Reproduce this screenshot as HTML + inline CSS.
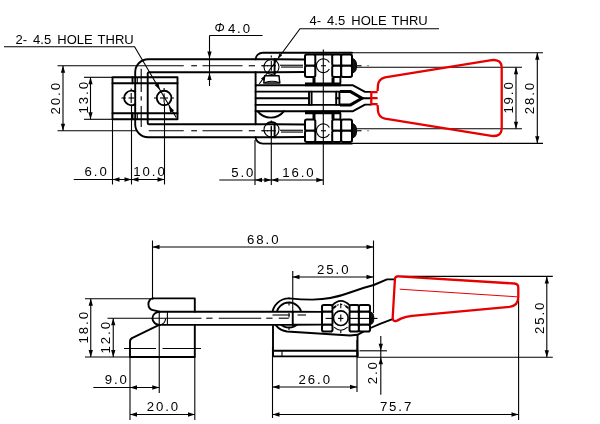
<!DOCTYPE html>
<html><head><meta charset="utf-8"><title>Toggle latch clamp drawing</title>
<style>
html,body{margin:0;padding:0;background:#fff;}
svg{display:block;}
text{font-family:"Liberation Sans",sans-serif;fill:#000;font-size:13px;filter:grayscale(1);}
.n{letter-spacing:1.9px;font-size:13.2px;}
.phi{font-style:italic;font-size:12px;}
.t{stroke:#000;stroke-width:1.1;fill:none;}
.k{stroke:#000;stroke-width:1.9;fill:none;stroke-linecap:round;stroke-linejoin:round;}
.kn{stroke:#000;stroke-width:2;fill:#fff;}
.k4{stroke:#000;stroke-width:3.8;fill:none;}
.k2{stroke:#000;stroke-width:3;fill:none;stroke-linejoin:miter;}
.k3{stroke:#000;stroke-width:3;fill:none;}
.kf{stroke:#000;stroke-width:1.5;fill:#fff;stroke-linejoin:round;}
.kw{stroke:#000;stroke-width:1.6;fill:#fff;}
.a{fill:#000;stroke:none;}
.af{fill:#111;stroke:#000;stroke-width:1;}
.r{stroke:#e60000;stroke-width:2.3;fill:none;stroke-linejoin:round;}
.rt{stroke:#e60000;stroke-width:1;fill:none;}
</style></head><body>
<svg width="600" height="424" viewBox="0 0 600 424">
<rect x="0" y="0" width="600" height="424" fill="#fff"/>
<line class="t" x1="57.5" y1="65.75" x2="183.75" y2="65.75"/>
<line class="t" x1="57.5" y1="130.75" x2="137" y2="130.75"/>
<line class="t" x1="63" y1="65.75" x2="63" y2="130.75"/>
<polygon class="a" points="63.00,65.75 65.15,72.75 60.85,72.75"/>
<polygon class="a" points="63.00,130.75 60.85,123.75 65.15,123.75"/>
<text class="n" x="60" y="114.4" transform="rotate(-90 60 114.4)">20.0</text>
<line class="t" x1="84" y1="77.3" x2="112" y2="77.3"/>
<line class="t" x1="84" y1="119.3" x2="112" y2="119.3"/>
<line class="t" x1="90.5" y1="77.3" x2="90.5" y2="119.3"/>
<polygon class="a" points="90.50,77.30 92.65,84.30 88.35,84.30"/>
<polygon class="a" points="90.50,119.30 88.35,112.30 92.65,112.30"/>
<text class="n" x="88.1" y="113.4" transform="rotate(-90 88.1 113.4)">13.0</text>
<line class="t" x1="112.5" y1="119" x2="112.5" y2="184.5"/>
<line class="t" x1="131.5" y1="104.5" x2="131.5" y2="184.5"/>
<line class="t" x1="164.5" y1="102.5" x2="164.5" y2="184.5"/>
<line class="t" x1="73.75" y1="179.5" x2="164.5" y2="179.5"/>
<polygon class="a" points="112.50,179.50 119.50,177.35 119.50,181.65"/>
<polygon class="a" points="131.50,179.50 124.50,181.65 124.50,177.35"/>
<polygon class="a" points="131.50,179.50 138.50,177.35 138.50,181.65"/>
<polygon class="a" points="164.50,179.50 157.50,181.65 157.50,177.35"/>
<text class="n" x="84.6" y="176.0">6.0</text>
<text class="n" x="133.35" y="176.0">10.0</text>
<line class="t" x1="255" y1="140" x2="255" y2="185"/>
<line class="t" x1="271.3" y1="126.5" x2="271.3" y2="185"/>
<line class="t" x1="323.3" y1="49.5" x2="323.3" y2="185"/>
<line class="t" x1="219.3" y1="180" x2="323.3" y2="180"/>
<polygon class="a" points="255.00,180.00 262.00,177.85 262.00,182.15"/>
<polygon class="a" points="271.30,180.00 264.30,182.15 264.30,177.85"/>
<polygon class="a" points="271.30,180.00 278.30,177.85 278.30,182.15"/>
<polygon class="a" points="323.30,180.00 316.30,182.15 316.30,177.85"/>
<text class="n" x="231.3" y="176.5">5.0</text>
<text class="n" x="282.3" y="176.5">16.0</text>
<line class="t" x1="209.5" y1="35.5" x2="262.5" y2="35.5"/>
<line class="t" x1="209.5" y1="35.5" x2="209.5" y2="86"/>
<polygon class="a" points="209.50,58.60 207.35,51.60 211.65,51.60"/>
<polygon class="a" points="209.50,73.00 211.65,80.00 207.35,80.00"/>
<text class="phi" x="214.6" y="32.3">Φ</text>
<text class="n" x="227.9" y="33.0">4.0</text>
<text class="l" y="43.85"><tspan x="15.6">2-</tspan><tspan x="33.1">4.5</tspan><tspan x="57.3">HOLE</tspan><tspan x="97.6">THRU</tspan></text>
<path class="t" d="M4,46.7 L134.6,46.7 L176.2,117.5"/>
<text class="l" y="25.3"><tspan x="309.6">4-</tspan><tspan x="327.1">4.5</tspan><tspan x="351.3">HOLE</tspan><tspan x="391.6">THRU</tspan></text>
<path class="t" d="M439,28.7 L300,28.7 L259.2,84"/>
<line class="t" x1="357" y1="67.3" x2="522" y2="67.3"/>
<line class="t" x1="357" y1="128.7" x2="522" y2="128.7"/>
<line class="t" x1="516" y1="67.3" x2="516" y2="128.7"/>
<polygon class="a" points="516.00,67.30 518.15,74.30 513.85,74.30"/>
<polygon class="a" points="516.00,128.70 513.85,121.70 518.15,121.70"/>
<text class="n" x="512.7" y="113.6" transform="rotate(-90 512.7 113.6)">19.0</text>
<line class="t" x1="352" y1="52.7" x2="543" y2="52.7"/>
<line class="t" x1="352" y1="143.4" x2="543" y2="143.4"/>
<line class="t" x1="537.3" y1="52.7" x2="537.3" y2="143.3"/>
<polygon class="a" points="537.30,52.70 539.45,59.70 535.15,59.70"/>
<polygon class="a" points="537.30,143.30 535.15,136.30 539.45,136.30"/>
<text class="n" x="534" y="114.2" transform="rotate(-90 534 114.2)">28.0</text>
<rect class="k" x="112.5" y="77.3" width="65" height="42" rx="0"/>
<line class="k" x1="112.5" y1="83.3" x2="177.5" y2="83.3"/>
<line class="k" x1="112.5" y1="113.3" x2="177.5" y2="113.3"/>
<path class="k" d="M275.6,59.2 L148.2,59.2 A13,13 0 0 0 135.2,72.2 L135.2,124.3 A13,13 0 0 0 148.2,137.3 L275.6,137.3"/>
<path class="k" d="M275.6,72.2 L149,72.2 A1.3,1.3 0 0 0 147.7,73.5 L147.7,123 A1.3,1.3 0 0 0 149,124.3 L275.6,124.3"/>
<line class="k" x1="132.5" y1="77.3" x2="132.5" y2="83.3"/>
<line class="k" x1="132.5" y1="113.3" x2="132.5" y2="119.3"/>
<line class="t" x1="137.3" y1="77.3" x2="137.3" y2="83.3"/>
<line class="t" x1="137.3" y1="113.3" x2="137.3" y2="119.3"/>
<line class="t" x1="141.2" y1="68.8" x2="141.2" y2="92.1"/>
<line class="t" x1="141.2" y1="96.3" x2="141.2" y2="100.6"/>
<line class="t" x1="141.2" y1="105.9" x2="141.2" y2="127"/>
<line class="t" x1="191.25" y1="65.75" x2="197" y2="65.75"/>
<line class="t" x1="202.5" y1="65.75" x2="242.5" y2="65.75"/>
<line class="t" x1="248.75" y1="65.75" x2="255" y2="65.75"/>
<line class="t" x1="261.25" y1="65.75" x2="268" y2="65.75"/>
<line class="t" x1="191.25" y1="130.75" x2="197" y2="130.75"/>
<line class="t" x1="202.5" y1="130.75" x2="242.5" y2="130.75"/>
<line class="t" x1="248.75" y1="130.75" x2="255" y2="130.75"/>
<line class="t" x1="261.25" y1="130.75" x2="268" y2="130.75"/>
<line class="t" x1="148.75" y1="130.75" x2="183.75" y2="130.75"/>
<path class="k" d="M135.2,91.9 A7.2,7.2 0 1 0 135.2,104.1"/>
<line class="t" x1="121.5" y1="98" x2="126" y2="98"/>
<line class="t" x1="128.5" y1="98" x2="134" y2="98"/>
<line class="t" x1="131.2" y1="93" x2="131.2" y2="103"/>
<line class="t" x1="131.2" y1="88.5" x2="131.2" y2="90.5"/>
<circle class="k" cx="164.1" cy="98" r="7.3"/>
<line class="t" x1="154" y1="98" x2="156" y2="98"/>
<line class="t" x1="160" y1="98" x2="168" y2="98"/>
<line class="t" x1="172" y1="98" x2="174" y2="98"/>
<line class="t" x1="164.1" y1="93.5" x2="164.1" y2="102.5"/>
<line class="t" x1="164.1" y1="88" x2="164.1" y2="90"/>
<polygon class="a" points="160.00,90.00 154.60,85.05 158.31,82.87"/>
<polygon class="a" points="168.60,105.60 174.00,110.55 170.29,112.73"/>
<path class="k" d="M352,52.75 L262.9,52.75 A7.3,6.5 0 0 0 255.6,59.2 M255.6,72.2 L255.6,124.3 M255.6,137.3 A7.3,6.3 0 0 0 262.9,143.6 L352,143.6"/>
<path class="k" d="M275.6,59.2 L305,59.5 M275.6,72.2 L305,72 M275.6,124.3 L305,124.5 M275.6,137.3 L305,137"/>
<line class="k" x1="274.6" y1="59.2" x2="274.6" y2="75.5"/>
<line class="k" x1="274.6" y1="124.3" x2="274.6" y2="137.3"/>
<circle class="t" cx="271.5" cy="66.9" r="7.5"/>
<circle class="t" cx="271.5" cy="129.6" r="7.5"/>
<path class="k" d="M266.2,124.3 A7.5,7.5 0 0 1 276.8,124.3"/>
<line class="t" x1="280" y1="65.25" x2="303" y2="65.25"/>
<line class="t" x1="281" y1="67.05" x2="303" y2="67.05"/>
<line class="t" x1="262.5" y1="65.75" x2="264.5" y2="65.75"/>
<line class="t" x1="267" y1="65.75" x2="276" y2="65.75"/>
<line class="t" x1="271.3" y1="60.75" x2="271.3" y2="70.75"/>
<line class="t" x1="357" y1="65.75" x2="361.5" y2="65.75"/>
<line class="t" x1="367.5" y1="65.75" x2="368.5" y2="65.75"/>
<line class="t" x1="280" y1="130.25" x2="303" y2="130.25"/>
<line class="t" x1="281" y1="132.05" x2="303" y2="132.05"/>
<line class="t" x1="262.5" y1="130.75" x2="264.5" y2="130.75"/>
<line class="t" x1="267" y1="130.75" x2="276" y2="130.75"/>
<line class="t" x1="271.3" y1="125.75" x2="271.3" y2="135.75"/>
<line class="t" x1="357" y1="130.75" x2="361.5" y2="130.75"/>
<line class="t" x1="367.5" y1="130.75" x2="368.5" y2="130.75"/>
<line class="t" x1="271.3" y1="55.5" x2="271.3" y2="57.5"/>
<line class="t" x1="271.3" y1="120.5" x2="271.3" y2="122.5"/>
<path class="k" d="M255.6,85.3 L353,85.3 L365,91.9 L371.3,91.9"/>
<path class="k" d="M255.6,111.2 L353,111.2 L365,104.6 L371.3,104.6"/>
<path class="k" d="M255.6,91.6 L340,91.6 M255.6,104.9 L340,104.9"/>
<path class="k2" d="M340,91.6 L350.5,91.6 L362,98.2 L350.5,104.9 L340,104.9"/>
<line class="k" x1="255.6" y1="98.2" x2="309" y2="98.2"/>
<line class="k" x1="362" y1="98.2" x2="371.3" y2="98.2"/>
<line class="k" x1="309" y1="91.6" x2="309" y2="104.9"/>
<line class="k" x1="311.6" y1="91.6" x2="311.6" y2="104.9"/>
<line class="k" x1="336.2" y1="91.6" x2="336.2" y2="104.9"/>
<line class="k" x1="339.4" y1="91.6" x2="339.4" y2="104.9"/>
<line class="k" x1="336.2" y1="98.2" x2="339.4" y2="98.2"/>
<path class="k" d="M257.5,111.2 A16.8,16.8 0 0 0 284,111.2"/>
<path class="kf" d="M263.8,83 L264.6,75.8 L279,75.8 L279.8,83 Z"/>
<path class="t" d="M265,82.6 Q272,80 279,82.6"/>
<polygon class="a" points="277.80,58.60 279.39,53.56 282.13,55.58"/>
<polygon class="a" points="265.30,75.60 263.71,80.64 260.97,78.62"/>
<line class="k" x1="315" y1="54.45" x2="332" y2="54.45"/>
<rect class="kn" x="305" y="54.45" width="10.300000000000011" height="11.3" rx="1.8"/>
<rect class="kn" x="305" y="65.75" width="10.300000000000011" height="11.3" rx="1.8"/>
<rect class="kn" x="332.2" y="54.45" width="9.0" height="11.3" rx="1.8"/>
<rect class="kn" x="332.2" y="65.75" width="9.0" height="11.3" rx="1.8"/>
<rect class="kn" x="341.2" y="54.45" width="10.800000000000011" height="11.3" rx="1.8"/>
<rect class="kn" x="341.2" y="65.75" width="10.800000000000011" height="11.3" rx="1.8"/>
<path class="af" d="M352.3,58.45 Q356.6,59.25 356.6,65.75 Q356.6,72.25 352.3,73.05 Z"/>
<path class="t" d="M329.39,62.51 A6.9,6.9 0 1 0 329.39,68.99"/>
<line class="t" x1="321" y1="65.75" x2="326" y2="65.75"/>
<line class="k" x1="315" y1="142.05" x2="332" y2="142.05"/>
<rect class="kn" x="305" y="119.45" width="10.300000000000011" height="11.3" rx="1.8"/>
<rect class="kn" x="305" y="130.75" width="10.300000000000011" height="11.3" rx="1.8"/>
<rect class="kn" x="332.2" y="119.45" width="9.0" height="11.3" rx="1.8"/>
<rect class="kn" x="332.2" y="130.75" width="9.0" height="11.3" rx="1.8"/>
<rect class="kn" x="341.2" y="119.45" width="10.800000000000011" height="11.3" rx="1.8"/>
<rect class="kn" x="341.2" y="130.75" width="10.800000000000011" height="11.3" rx="1.8"/>
<path class="af" d="M352.3,123.45 Q356.6,124.25 356.6,130.75 Q356.6,137.25 352.3,138.05 Z"/>
<path class="t" d="M329.39,127.51 A6.9,6.9 0 1 0 329.39,133.99"/>
<line class="t" x1="321" y1="130.75" x2="326" y2="130.75"/>
<path class="k4" d="M305,84.4 L341,84.4"/>
<path class="k4" d="M305,112.3 L341,112.3"/>
<path class="k3" d="M314,77.5 L314,83 M333,77.5 L333,83 M314,119 L314,113.5 M333,119 L333,113.5"/>
<path class="k" d="M340.4,77.5 L340.4,83 M340.4,119 L340.4,113.5"/>
<path class="r" d="M377.6,91 L378,85 Q378.5,79 385,77.3 L490,60.3 Q501.7,58.5 501.7,68 L501.7,128 Q501.7,137.5 490,135.7 L385,118.7 Q378.5,117 378,111 L377.6,105"/>
<path class="r" d="M377.6,92.2 L371.3,92.2 L371.3,104.1 L377.6,104.1 M371.3,98.1 L377.6,98.1"/>
<line class="t" x1="152.5" y1="240.5" x2="152.5" y2="299.5"/>
<line class="t" x1="373.5" y1="240.5" x2="373.5" y2="313"/>
<line class="t" x1="152.5" y1="247" x2="373.5" y2="247"/>
<polygon class="a" points="152.50,247.00 159.50,244.85 159.50,249.15"/>
<polygon class="a" points="373.50,247.00 366.50,249.15 366.50,244.85"/>
<text class="n" x="247.1" y="244.1">68.0</text>
<line class="t" x1="292.75" y1="271" x2="292.75" y2="311"/>
<line class="t" x1="292.5" y1="277" x2="373.5" y2="277"/>
<polygon class="a" points="292.50,277.00 299.50,274.85 299.50,279.15"/>
<polygon class="a" points="373.50,277.00 366.50,279.15 366.50,274.85"/>
<text class="n" x="317.1" y="274.0">25.0</text>
<line class="t" x1="85" y1="298.75" x2="151" y2="298.75"/>
<line class="t" x1="85" y1="357" x2="130" y2="357"/>
<line class="t" x1="90.75" y1="298.75" x2="90.75" y2="357"/>
<polygon class="a" points="90.75,298.75 92.90,305.75 88.60,305.75"/>
<polygon class="a" points="90.75,357.00 88.60,350.00 92.90,350.00"/>
<text class="n" x="88" y="343.4" transform="rotate(-90 88 343.4)">18.0</text>
<line class="t" x1="107.5" y1="318.2" x2="201.5" y2="318.2"/>
<line class="t" x1="113.25" y1="318.25" x2="113.25" y2="357"/>
<polygon class="a" points="113.25,318.25 115.40,325.25 111.10,325.25"/>
<polygon class="a" points="113.25,357.00 111.10,350.00 115.40,350.00"/>
<text class="n" x="110" y="353.4" transform="rotate(-90 110 353.4)">12.0</text>
<line class="t" x1="130" y1="357" x2="130" y2="420"/>
<line class="t" x1="159.25" y1="311" x2="159.25" y2="393"/>
<line class="t" x1="194.8" y1="357" x2="194.8" y2="420"/>
<line class="t" x1="93.3" y1="387.5" x2="159.25" y2="387.5"/>
<polygon class="a" points="130.00,387.50 137.00,385.35 137.00,389.65"/>
<polygon class="a" points="159.25,387.50 152.25,389.65 152.25,385.35"/>
<text class="n" x="104.8" y="384.3">9.0</text>
<line class="t" x1="130" y1="414.5" x2="195" y2="414.5"/>
<polygon class="a" points="130.00,414.50 137.00,412.35 137.00,416.65"/>
<polygon class="a" points="195.00,414.50 188.00,416.65 188.00,412.35"/>
<text class="n" x="146.8" y="410.9">20.0</text>
<line class="t" x1="272.5" y1="347" x2="272.5" y2="418"/>
<line class="t" x1="357" y1="340" x2="357" y2="392"/>
<line class="t" x1="272.5" y1="387" x2="357" y2="387"/>
<polygon class="a" points="272.50,387.00 279.50,384.85 279.50,389.15"/>
<polygon class="a" points="357.00,387.00 350.00,389.15 350.00,384.85"/>
<text class="n" x="298.6" y="383.5">26.0</text>
<line class="t" x1="272.5" y1="414.5" x2="518.5" y2="414.5"/>
<polygon class="a" points="272.50,414.50 279.50,412.35 279.50,416.65"/>
<polygon class="a" points="518.50,414.50 511.50,416.65 511.50,412.35"/>
<text class="n" x="379.9" y="410.5">75.7</text>
<line class="t" x1="518.6" y1="299" x2="518.6" y2="420"/>
<line class="t" x1="357" y1="357.2" x2="552.8" y2="357.2"/>
<line class="t" x1="396" y1="276.4" x2="552.8" y2="276.4"/>
<line class="t" x1="546.8" y1="276.4" x2="546.8" y2="357.2"/>
<polygon class="a" points="546.80,276.40 548.95,283.40 544.65,283.40"/>
<polygon class="a" points="546.80,357.20 544.65,350.20 548.95,350.20"/>
<text class="n" x="543.7" y="333.9" transform="rotate(-90 543.7 333.9)">25.0</text>
<line class="t" x1="359.5" y1="350.8" x2="387" y2="350.8"/>
<line class="t" x1="380.8" y1="336" x2="380.8" y2="394.8"/>
<polygon class="a" points="380.80,350.80 378.65,343.80 382.95,343.80"/>
<polygon class="a" points="380.80,357.20 382.95,364.20 378.65,364.20"/>
<text class="n" x="377.5" y="384.2" transform="rotate(-90 377.5 384.2)">2.0</text>
<path class="k" d="M153,298.4 L194.8,298.4 L194.8,311.7 M194.8,324.9 L194.8,357 L130,357 L130,341.5 Q130,339 132.5,337.8 L159.2,324.9"/>
<path class="k" d="M153,298.4 A4.6,5.85 0 0 0 153,310.1 L159.8,311.7 A7.4,6.6 0 0 0 159.8,324.9"/>
<line class="t" x1="167.4" y1="311.7" x2="167.4" y2="324.9"/>
<path class="t" d="M165.6,318.2 Q165.3,324 159.8,324.9"/>
<line class="t" x1="124" y1="348.5" x2="201" y2="348.5" stroke-dasharray="32 6.5 38.5 100"/>
<line class="t" x1="206.25" y1="318.2" x2="212.5" y2="318.2"/>
<line class="t" x1="218.75" y1="318.2" x2="261.25" y2="318.2"/>
<line class="t" x1="266.25" y1="318.2" x2="272.5" y2="318.2"/>
<line class="t" x1="278.75" y1="318.2" x2="288.75" y2="318.2"/>
<rect class="k" x="273" y="350.75" width="84.5" height="5.6" rx="0"/>
<line class="t" x1="282" y1="350.75" x2="282" y2="356.25"/>
<line class="k" x1="273" y1="326" x2="273" y2="356"/>
<line class="k" x1="357.5" y1="335.5" x2="357.5" y2="356"/>
<path class="k" d="M289,298.4 A16.6,16.6 0 0 0 287,331.5 L350,335.5 L357.5,334.8 L368.75,328.75 L380,323.9 L392.5,319.2"/>
<path class="k" d="M289,298.4 Q301,299.6 312.5,299.6 Q332,299.3 350,292.5 Q362,288 373.75,285 L387,279.4 L394.5,279.4"/>
<circle class="k" cx="289" cy="315" r="12.5"/>
<rect x="262" y="311.7" width="30.75" height="13.2" fill="#fff"/>
<rect x="292" y="312" width="30" height="12" fill="#fff"/>
<line class="k" x1="292.75" y1="311.7" x2="292.75" y2="324.9"/>
<line class="k" x1="292.75" y1="311.8" x2="322" y2="311.9"/>
<line class="k" x1="292.75" y1="324.8" x2="322" y2="324.6"/>
<line class="t" x1="272.5" y1="315" x2="290" y2="315"/>
<line class="t" x1="297.5" y1="315" x2="306" y2="315"/>
<line class="t" x1="266.25" y1="318.2" x2="272.5" y2="318.2"/>
<line class="t" x1="278.75" y1="318.2" x2="288.75" y2="318.2"/>
<line class="t" x1="289" y1="302.5" x2="289" y2="305.6"/>
<line class="t" x1="289" y1="313" x2="289" y2="317.5"/>
<line class="t" x1="289" y1="327.5" x2="289" y2="330"/>
<line class="k" x1="159.8" y1="311.7" x2="292.75" y2="311.7"/>
<line class="k" x1="159.8" y1="324.9" x2="292.75" y2="324.9"/>
<rect class="kn" x="322" y="304.9" width="10.5" height="6.8" rx="1.8"/>
<rect class="kn" x="322" y="311.7" width="10.5" height="13" rx="1.5"/>
<rect class="kn" x="322" y="324.7" width="10.5" height="6.8" rx="1.8"/>
<rect class="kn" x="349.5" y="304.9" width="9.399999999999977" height="6.8" rx="1.8"/>
<rect class="kn" x="349.5" y="311.7" width="9.399999999999977" height="13" rx="1.5"/>
<rect class="kn" x="349.5" y="324.7" width="9.399999999999977" height="6.8" rx="1.8"/>
<rect class="kn" x="358.9" y="304.9" width="11.100000000000023" height="6.8" rx="1.8"/>
<rect class="kn" x="358.9" y="311.7" width="11.100000000000023" height="13" rx="1.5"/>
<rect class="kn" x="358.9" y="324.7" width="11.100000000000023" height="6.8" rx="1.8"/>
<path class="af" d="M370.3,311.9 Q373.8,312.4 373.8,318.2 Q373.8,324.0 370.3,324.5 Z"/>
<circle class="kw" cx="340.8" cy="318.2" r="7.3"/>
<path class="k" d="M332.5,305.2 Q340.8,296.5 349.5,305.2"/>
<path class="k" d="M333.8,307.8 L335.6,306.2 M346,306.2 L347.8,307.8"/>
<path class="t" d="M336.8,305.3 Q340.8,303.59999999999997 344.8,305.3" stroke-dasharray="2 1.6"/>
<path class="t" d="M334,327.2 Q340.8,333.2 347.6,327.2"/>
<line class="t" x1="325.6" y1="318.4" x2="332.5" y2="318.4"/>
<line class="t" x1="338" y1="318.4" x2="343.4" y2="318.4"/>
<line class="t" x1="348.75" y1="318.4" x2="377.5" y2="318.4"/>
<line class="t" x1="340.8" y1="303.2" x2="340.8" y2="308.2"/>
<line class="t" x1="340.8" y1="314.5" x2="340.8" y2="321.4"/>
<line class="t" x1="340.8" y1="330.2" x2="340.8" y2="333.2"/>
<path class="r" d="M398.2,276.4 L514.3,283.5 Q518.3,283.8 518.3,287.6 L518.3,297 Q518.3,305.8 509.5,306.9 L412,315.9 Q405.5,316.7 401.5,318.4 L397,320.6 Q392.5,322.3 392.7,317.5 L394.9,279.5 Q395,276.2 398.2,276.4 Z"/>
<line class="rt" x1="399.7" y1="289.2" x2="517" y2="296.8"/>
</svg>
</body></html>
